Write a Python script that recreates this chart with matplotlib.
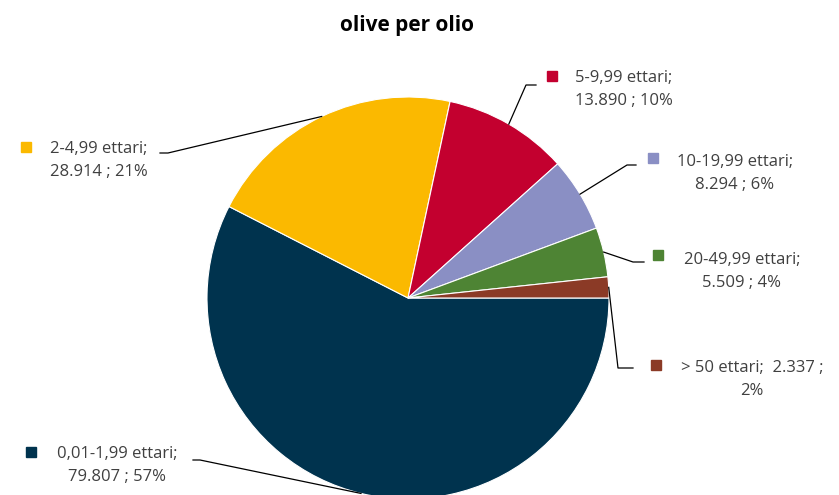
import numpy as np
import matplotlib.pyplot as plt

plt.rcParams['font.family'] = ['Open Sans', 'DejaVu Sans']

categories = ['0,01-1,99 ettari', '2-4,99 ettari', '5-9,99 ettari',
              '10-19,99 ettari', '20-49,99 ettari', '> 50 ettari']
values = [79807, 28914, 13890, 8294, 5509, 2337]
colors = ['#00334E', '#FBB900', '#C3002F', '#8A8FC4', '#4E8434', '#8B3A26']

# label layout in pixels: text centre x, first line y, marker centre x/y,
# elbow x/y, end of horizontal stub x
label_pos = [
    (117, 453, 31, 452, 200, 460, 193),
    (99, 148, 26, 147, 168, 153, 160),
    (624, 77, 552, 76, 526, 85, 536),
    (735, 161, 653, 158, 627, 165, 636),
    (742, 259, 658, 255, 633, 262, 644),
    (752, 367, 656, 365, 618, 368, 633),
]
LINE_GAP = 25

W, H = 839, 495
fig = plt.figure(figsize=(W / 100, H / 100), dpi=100)
ax = fig.add_axes([0, 0, 1, 1])

cx, cy, r = 408, H - 298, 201
wedges, _ = ax.pie(values, colors=colors, startangle=0, counterclock=False,
                   center=(cx, cy), radius=r, frame=True,
                   wedgeprops=dict(edgecolor='white', linewidth=0.8))
ax.set_xlim(0, W)
ax.set_ylim(0, H)
ax.axis('off')

# whole percentages that add up to 100 (largest remainder)
total = sum(values)
raw = np.array(values) / total * 100
pcts = np.floor(raw).astype(int)
order = np.argsort(-(raw - pcts))
pcts[order[:100 - pcts.sum()]] += 1


def fmt_int(v):
    return f'{v:,}'.replace(',', '.')


for i, (w, pos) in enumerate(zip(wedges, label_pos)):
    tx, ty, mx, my, ex, ey, hx = pos
    mid = np.deg2rad((w.theta1 + w.theta2) / 2)
    px, py = cx + r * np.cos(mid), cy + r * np.sin(mid)
    if i == 5:
        txt = f'{categories[i]};  {fmt_int(values[i])} ;\n{pcts[i]}%'
    else:
        txt = f'{categories[i]};\n{fmt_int(values[i])} ; {pcts[i]}%'
    ax.text(tx, H - (ty + LINE_GAP / 2), txt, ha='center', va='center',
            fontsize=12, color='#404040', linespacing=1.58,
            multialignment='center')
    ax.add_patch(plt.Rectangle((mx - 5, H - my - 5), 10, 10, color=colors[i]))
    ax.plot([px, ex, hx], [py, H - ey, H - ey], color='black', lw=0.9)

fig.text(407 / W, 1 - 25 / H, 'olive per olio', ha='center', va='center',
         fontsize=15, fontweight='bold', color='black')

fig.savefig('out.png', dpi=100)
